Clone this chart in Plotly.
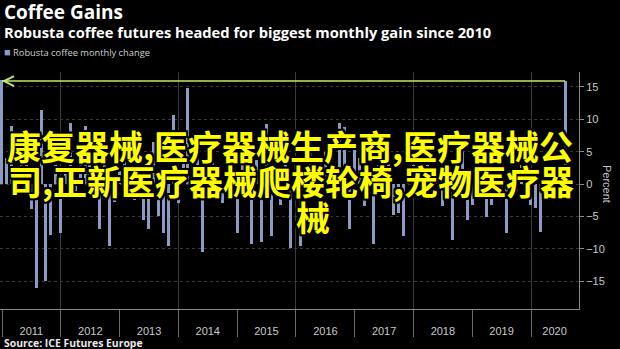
import pandas as pd
import plotly.graph_objects as go

# ---- data -------------------------------------------------------------
first_month = "2010-12"
monthly_change = [
    16.0, 4.0, 9.0, -2.0, 3.0, 5.0, -3.9, -16.0, 11.5, -15.0, -7.8, 3.0,      # Dec10-Nov11
    -7.6, 2.0, 9.4, -2.0, 4.0, 8.9, 5.0, 3.0, -6.9, 7.7, -9.6, -2.7,          # Dec11-Nov12
    2.0, 4.5, 3.0, -2.5, 7.5, -5.5, -6.9, 6.5, -5.0, -7.6, -9.6, 10.7,        # Dec12-Nov13
    -3.0, 5.0, 14.8, 3.0, 7.0, -10.5, 2.0, 4.5, -2.1, -3.0, 3.0, 6.0,         # Dec13-Nov14
    -7.6, 8.3, 2.0, -9.2, 3.7, -8.9, 9.2, -8.0, 2.0, -3.2, 5.5, -9.9,         # Dec14-Nov15
    3.0, -9.6, 2.0, 6.0, 4.0, 3.0, 5.0, 2.0, -1.5, 9.5, 8.8, -7.0,            # Dec15-Nov16
    5.5, 4.0, -3.4, 2.0, -9.2, 3.0, 2.0, 4.0, -4.8, -4.4, -8.0, 2.0,          # Dec16-Nov17
    3.0, 1.0, -2.0, 3.0, 1.0, 2.0, -3.4, -2.5, -8.6, 2.0, 6.0, -5.5,          # Dec17-Nov18
    -3.2, 2.0, 1.0, -5.1, -3.2, 3.0, -1.7, -7.6, 2.0, -1.0, 3.0, 5.0,         # Dec18-Nov19
    -3.2, -3.7, -7.4, 3.0, -2.0, 1.0, 2.0, 15.9,                               # Dec19-Jul20
]
year_labels = ["2011", "2012", "2013", "2014", "2015", "2016", "2017", "2018", "2019", "2020"]
year_label_pos = ["2011-07-02", "2012-07-02", "2013-07-02", "2014-07-02", "2015-07-02",
                  "2016-07-02", "2017-07-02", "2018-07-02", "2019-07-02", "2020-05-26"]
year_bounds = ["2011-01-01", "2012-01-01", "2013-01-01", "2014-01-01", "2015-01-01",
               "2016-01-01", "2017-01-01", "2018-01-01", "2019-01-01", "2020-01-01"]
grid_bounds = ["2012-01-01", "2014-01-01", "2016-01-01", "2018-01-01", "2020-01-01"]
y_ticks = [-15, -10, -5, 0, 5, 10, 15]
x_range = ["2010-12-19", "2020-10-25"]
y_range = [-19.3, 17.3]

dates = pd.period_range(first_month, periods=len(monthly_change), freq="M").to_timestamp(how="end").normalize()

BAR = "#8b9bc3"
GREEN = "#c3e86a"
overlay_lines = ["康复器械,医疗器械生产商,医疗器械公", "司,正新医疗器械爬楼轮椅,宠物医疗器", "械"]

fig = go.Figure()
fig.add_trace(go.Bar(x=dates, y=monthly_change, marker=dict(color=BAR, line=dict(width=0)),
                     width=18.6 * 86400000, name="Robusta coffee monthly change",
                     showlegend=False))
# green reference line at latest value (drawn on overlay axis that carries 2-year grid)
fig.add_trace(go.Scatter(x=[dates[0], dates[-1]], y=[monthly_change[-1]] * 2, mode="lines",
                         line=dict(color=GREEN, width=1.5), xaxis="x2", showlegend=False,
                         hoverinfo="skip"))

# plot-area geometry helpers (pixels -> paper)
W, H = 620, 349
L, R, T, B = 0, 41, 72, 40
ph = H - T - B
pw = W - L - R
def py(ypix):
    return (H - B - ypix) / ph
def px(xpix):
    return (xpix - L) / pw

ann = []
ann.append(dict(x=dates[0], y=monthly_change[-1], ax=dates[0] + pd.Timedelta(days=40),
                ay=monthly_change[-1], xref="x", yref="y", axref="x", ayref="y",
                showarrow=True, arrowhead=5, arrowsize=1.3, arrowwidth=1.5, arrowcolor=GREEN,
                text=""))
ann.append(dict(x=px(2), y=py(12), xref="paper", yref="paper", xanchor="left", yanchor="middle",
                text="<b>Coffee Gains</b>", showarrow=False,
                font=dict(family="Open Sans", size=19, color="#ffffff")))
ann.append(dict(x=px(2), y=py(32), xref="paper", yref="paper", xanchor="left", yanchor="middle",
                text="<b>Robusta coffee futures headed for biggest monthly gain since 2010</b>",
                showarrow=False, font=dict(family="Open Sans", size=14.7, color="#ffffff")))
ann.append(dict(x=px(2), y=py(52), xref="paper", yref="paper", xanchor="left", yanchor="middle",
                text=f"<span style='color:{BAR};font-size:11px'>■</span> Robusta coffee monthly change",
                showarrow=False, font=dict(family="Liberation Sans Narrow, Open Sans", size=9.3, color="#cfcfcf")))
ann.append(dict(x=px(2), y=py(343), xref="paper", yref="paper", xanchor="left", yanchor="middle",
                text="<b>Source: ICE Futures Europe</b>", showarrow=False,
                font=dict(family="Open Sans", size=10.4, color="#e8e8e8")))
ann.append(dict(x=px(607), y=py(184), xref="paper", yref="paper", xanchor="center", yanchor="middle",
                text="Percent", textangle=90, showarrow=False,
                font=dict(family="Liberation Sans", size=11, color="#c8c8c8")))
outline = "-2px -2px 0 #000, 2px -2px 0 #000, -2px 2px 0 #000, 2px 2px 0 #000, 0 2px 0 #000, 0 -2px 0 #000, 2px 0 0 #000, -2px 0 0 #000"
for txt, xc, yc in zip(overlay_lines, [290, 291, 313], [145, 180, 216]):
    ann.append(dict(x=px(xc), y=py(yc), xref="paper", yref="paper", xanchor="center", yanchor="middle",
                    text=f"<b>{txt}</b>", showarrow=False,
                    font=dict(family="Noto Sans CJK SC", size=34, color="#ffff00", shadow=outline)))

fig.update_layout(
    width=W, height=H, margin=dict(l=L, r=R, t=T, b=B),
    paper_bgcolor="#000000", plot_bgcolor="#000000",
    bargap=0, showlegend=False, annotations=ann,
    xaxis=dict(type="date", range=x_range, tickmode="array", tickvals=year_label_pos,
               ticktext=year_labels, ticks="", showgrid=False, zeroline=False,
               showline=True, linecolor="#8a8a8a", linewidth=1,
               tickfont=dict(family="Liberation Sans", size=11, color="#c8c8c8"),
               ticklabelstandoff=12,
               minor=dict(tickmode="array", tickvals=year_bounds, ticks="outside", ticklen=27,
                          tickcolor="#6a6a6a", tickwidth=1, showgrid=False)),
    xaxis2=dict(type="date", range=x_range, overlaying="x", tickmode="array", tickvals=grid_bounds,
                showticklabels=False, ticks="", showgrid=True, gridcolor="#3c3c3c", gridwidth=1,
                zeroline=False, showline=False),
    yaxis=dict(range=y_range, side="right", tickmode="array", tickvals=y_ticks,
               ticks="outside", ticklen=4, tickcolor="#8a8a8a", showline=True,
               linecolor="#8a8a8a", linewidth=1, showgrid=True, gridcolor="#3a3a3a",
               griddash="dot", zeroline=False,
               tickfont=dict(family="Liberation Sans", size=11, color="#c8c8c8")),
)

fig.write_html("out.html")
